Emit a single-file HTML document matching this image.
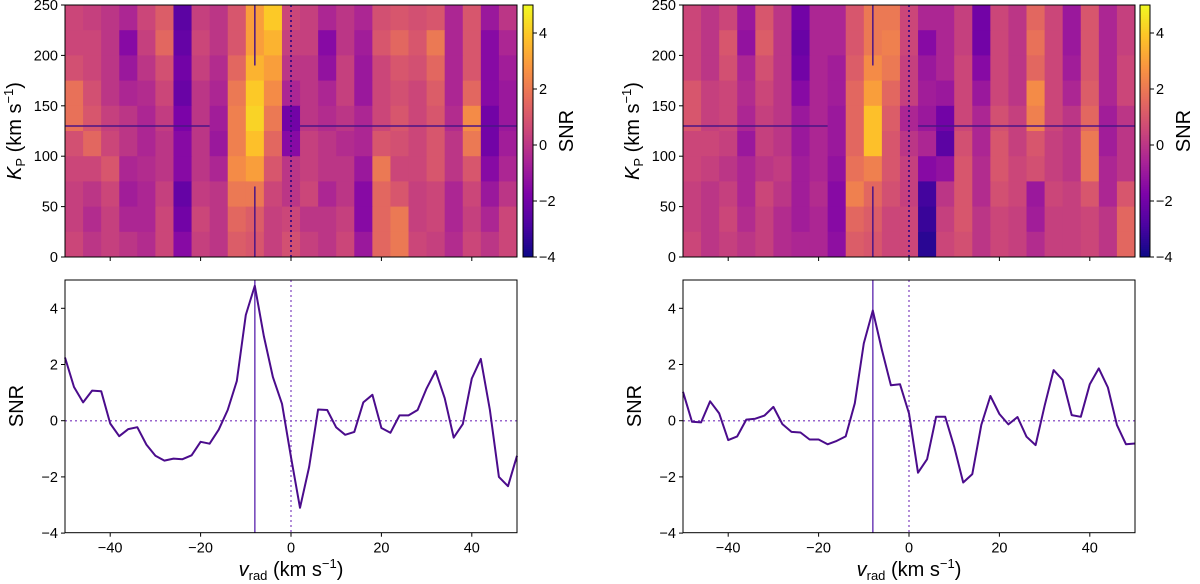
<!DOCTYPE html>
<html><head><meta charset="utf-8">
<style>
html,body{margin:0;padding:0;background:#fff;}
svg{display:block;font-family:"Liberation Sans","DejaVu Sans",sans-serif;}
</style></head>
<body>
<svg id="fig" width="1200" height="584" viewBox="0 0 1200 584" xmlns="http://www.w3.org/2000/svg"></svg>
<script>
// ---- data ----
const vGrid = [-50,-48,-46,-44,-42,-40,-38,-36,-34,-32,-30,-28,-26,-24,-22,-20,-18,-16,-14,-12,-10,-8,-6,-4,-2,0,2,4,6,8,10,12,14,16,18,20,22,24,26,28,30,32,34,36,38,40,42,44,46,48,50];
const snrLeft = [2.25,1.2,0.65,1.07,1.05,-0.1,-0.55,-0.3,-0.23,-0.85,-1.25,-1.42,-1.35,-1.37,-1.23,-0.75,-0.82,-0.32,0.38,1.41,3.76,4.8,3.0,1.55,0.6,-1.3,-3.1,-1.65,0.4,0.38,-0.24,-0.5,-0.4,0.65,0.92,-0.26,-0.43,0.19,0.19,0.38,1.15,1.77,0.8,-0.6,-0.12,1.5,2.2,0.38,-2.0,-2.33,-1.25];
const snrRight = [1.03,-0.04,-0.06,0.69,0.26,-0.69,-0.56,0.04,0.07,0.18,0.49,-0.12,-0.4,-0.42,-0.67,-0.67,-0.84,-0.72,-0.56,0.62,2.75,3.92,2.52,1.26,1.3,0.26,-1.85,-1.37,0.14,0.14,-0.93,-2.2,-1.9,-0.15,0.88,0.24,-0.13,0.13,-0.57,-0.87,0.53,1.8,1.45,0.2,0.14,1.3,1.86,1.18,-0.15,-0.84,-0.81];
const hmV = [-48,-44,-40,-36,-32,-28,-24,-20,-16,-12,-8,-4,0,4,8,12,16,20,24,28,32,36,40,44,48];
const hmK = [237.5,212.5,187.5,162.5,137.5,112.5,87.5,62.5,37.5,12.5];
const hmLeft = [
[0.5,0.3,0,-0.5,0.5,1.2,-2.5,0.3,0,1,3,4,0.5,0.3,-0.5,0,-0.5,0.8,1,0.8,1,-0.5,1,-1,0],
[0.5,0.5,0,-1.5,0.3,1.5,-2.3,0.5,0,1,3,3.5,0.3,0.3,-1.5,0,-0.8,1,1.5,1,2,-0.5,1,-1.5,-0.5],
[0.8,0.5,0,-1,0,0.8,-2,0.3,-0.3,1.5,3.5,3,0,0,-1.2,0.3,-1,0.5,1,0.8,1.5,-0.5,1,-1.5,-0.8],
[1.8,0.8,0,-0.5,-0.3,0.5,-2.2,0,-0.5,2,4,2.5,-0.5,0,-0.5,0.3,-1,0.5,0.8,0.5,1.2,-0.5,1.5,-1.5,-1],
[1.8,1,0.3,0,-0.5,0.2,-1.8,0,-0.8,2.2,4.2,2,-2,0,-0.3,0,-0.5,0.5,1,0.5,1,-0.3,2.5,-2,-1],
[0.8,1.5,0.5,0,-0.5,0,-1.5,0,-1,2.2,3.8,1.5,-1.5,0.3,0,-0.3,-0.5,1,0.8,0.5,1,0,2,-2,-0.8],
[0.5,0.5,1,-0.5,-0.3,0,-1.5,0,-0.5,2.5,3,1,0,0.3,0,0,-1,2,0.5,0.5,1,0,1,-1.5,-0.5],
[0.3,0,0.5,-0.8,-0.5,0.3,-2.3,0.2,0,2,2,0.5,0,0.5,-0.5,0,-1.5,1.5,1,0.3,0.5,-0.5,0.5,-1,0],
[0.3,-0.3,0.3,-0.5,-0.5,0.5,-2,0.5,0,1.5,1.2,0.3,0.5,0,0,0.3,-1.5,1.5,2,0.3,0.5,-0.5,0.3,-0.5,0.5],
[0.5,0,0.3,0,-0.3,0.5,-1.5,0.3,0,1.2,1,0.3,0.8,0.3,0,0.5,-1,1.5,2,0.5,0.3,-0.3,0.5,0,0.5]];
const hmRight = [
[0.5,0,0.5,-1,1,0,-2,-0.5,-0.5,1,2,2,0.5,-0.5,-0.5,0.3,-2,0.5,0,1.5,0.5,-1,1,-0.5,0.3],
[0.5,0,1,-1.2,1.2,0,-2.2,-0.5,-0.5,1,2,2.2,0.5,-1.5,-0.5,0.3,-2,0.5,0,1.8,0.5,-1,1,-0.5,0.3],
[0.5,0,0.8,-0.5,0.8,0,-2,-0.5,-0.8,1.2,2.5,2,0.3,-1,-0.5,0.5,-1.5,0.5,0,1.5,0.5,-0.8,1,-0.5,0.5],
[1,0.3,0.5,-0.3,0.5,0,-1.5,-0.5,-0.8,1.5,3,1.5,0.3,-0.8,-1,0.5,-1,0.5,0,2.5,0.5,-0.5,1.2,-0.5,0.5],
[1,0.3,0.5,-0.5,0.3,0,-1,-0.5,-1,1.5,3.8,1.2,-0.5,-1,-2,0.5,-0.5,0.8,0.3,2.2,0.5,0,1.5,-0.8,0],
[0.5,0.5,0.3,-1,0.3,0,-1,-0.5,-1,1.5,3.8,1,0,-0.5,-2.5,0.8,-0.5,1,0.3,1,0.3,0,2,-0.8,0],
[0.5,0.3,0,-0.5,0,0.2,-0.8,-0.5,-1.2,1.8,2.2,1,0.3,-1.5,-1.2,1,-0.3,1,0.5,0.8,0.3,0,2,-0.5,0],
[0.3,0,0.3,-0.5,0.5,0,-0.8,-0.3,-1.5,2.2,1.5,0.8,0.3,-3,0,1,-0.3,0.8,0.5,-1,0.5,0.3,1,-0.5,1],
[0.3,0,0.5,-0.3,0.3,-0.3,-0.8,-0.5,-1.5,1.5,1.2,0.5,0.5,-3.2,0.3,1,0,0.5,0.3,-0.8,0.3,0.3,0.5,0,1.5],
[0.5,0,0.3,0,0.3,-0.3,-0.5,-0.5,-1.3,1.2,1,0.5,0.5,-3.5,0.5,0.8,0,0.5,0.3,-0.3,0.3,0.3,0.5,0,1.5]];
const xTicks = [-40,-20,0,20,40];
const yTicksSNR = [-4,-2,0,2,4];
const yTicksKp = [0,50,100,150,200,250];
const cbTicks = [-4,-2,0,2,4];

// ---- rendering ----
const NS = "http://www.w3.org/2000/svg";
const svg = document.getElementById('fig');
function mk(tag, attrs, parent, text){
  const e = document.createElementNS(NS, tag);
  for (const k in attrs) e.setAttribute(k, attrs[k]);
  if (text !== undefined) e.textContent = text;
  (parent || svg).appendChild(e);
  return e;
}
const plasma = [[13,8,135],[75,3,161],[125,3,168],[168,34,150],[203,70,121],[229,107,93],[248,148,65],[253,195,40],[240,249,33]];
function cmap(v){
  let t = (v - (-4)) / 9; t = Math.max(0, Math.min(1, t));
  const p = t * (plasma.length - 1), i = Math.min(plasma.length - 2, Math.floor(p)), f = p - i;
  const a = plasma[i], b = plasma[i+1];
  return `rgb(${Math.round(a[0]+(b[0]-a[0])*f)},${Math.round(a[1]+(b[1]-a[1])*f)},${Math.round(a[2]+(b[2]-a[2])*f)})`;
}
const TF = 14.5, LF = 20, SF = 13;

function panel(side, L, R, cbX, hm, snr){
  const g = mk('g', {});
  
  
  const xs = v => L + (v + 50) / 100 * (R - L);
  const hT = 5, hB = 257;
  const ky = k => hB - k / 250 * (hB - hT);
  const sy = s => 420.7 - s * 28.1;
  const hg = mk('g', {}, g);
  
  
  hmK.forEach((k, r) => {
    hmV.forEach((v, c) => {
      const x0 = xs(Math.max(-50, v - 2)), x1 = xs(Math.min(50, v + 2));
      const y0 = ky(k + 12.5), y1 = ky(k - 12.5);
      const cell = mk('rect', {x: x0, y: y0, width: x1 - x0 + 0.5, height: y1 - y0 + 0.5, fill: cmap(hm[r][c])}, hg);
      
      
    });
  });
  const lc = '#4a1486';
  mk('line', {x1: xs(-50), x2: xs(-18), y1: ky(130), y2: ky(130), stroke: lc, 'stroke-width': 1.5}, hg);
  mk('line', {x1: xs(2), x2: xs(50), y1: ky(130), y2: ky(130), stroke: lc, 'stroke-width': 1.5}, hg);
  mk('line', {x1: xs(-8), x2: xs(-8), y1: ky(250), y2: ky(190), stroke: lc, 'stroke-width': 1.5}, hg);
  mk('line', {x1: xs(-8), x2: xs(-8), y1: ky(70), y2: ky(0), stroke: lc, 'stroke-width': 1.5}, hg);
  mk('line', {x1: xs(0), x2: xs(0), y1: hT, y2: hB, stroke: '#3a0a80', 'stroke-width': 1.8, 'stroke-dasharray': '2,3'}, hg);
  mk('rect', {x: L, y: hT, width: R - L, height: hB - hT, fill: 'none', stroke: '#000', 'stroke-width': 1}, g);
  xTicks.forEach(t => mk('line', {x1: xs(t), x2: xs(t), y1: hB, y2: hB + 4, stroke: '#000'}, g));
  yTicksKp.forEach(t => {
    mk('line', {x1: L - 4, x2: L, y1: ky(t), y2: ky(t), stroke: '#000'}, g);
    mk('text', {x: L - 7, y: ky(t) + 5, 'text-anchor': 'end', 'font-size': TF}, g, t);
  });
  const kl = mk('text', {x: 0, y: 0, 'text-anchor': 'middle', 'font-size': LF, transform: `translate(${L - 44},131) rotate(-90)`}, g);
  
  
  mk('tspan', {'font-style': 'italic'}, kl, 'K');
  mk('tspan', {'font-size': SF, dy: 4}, kl, 'P');
  mk('tspan', {dy: -4}, kl, ' (km s');
  mk('tspan', {'font-size': SF, dy: -8}, kl, '−1');
  mk('tspan', {dy: 8}, kl, ')');
  const cb = mk('g', {}, g);
  
  
  for (let i = 0; i < 126; i++) {
    const v = 5 - 9 * (i + 0.5) / 126;
    mk('rect', {x: cbX, y: hT + i * 2, width: 10, height: 2.2, fill: cmap(v)}, cb);
  }
  mk('rect', {x: cbX, y: hT, width: 10, height: hB - hT, fill: 'none', stroke: '#000'}, cb);
  cbTicks.forEach(t => {
    const y = hB - (t + 4) / 9 * (hB - hT);
    mk('line', {x1: cbX + 10, x2: cbX + 14, y1: y, y2: y, stroke: '#000'}, cb);
    mk('text', {x: cbX + 16, y: y + 5, 'font-size': TF}, cb, t < 0 ? '−' + (-t) : t);
  });
  mk('text', {x: 0, y: 0, 'text-anchor': 'middle', 'font-size': LF, transform: `translate(${cbX + 50},131) rotate(-90)`}, cb, 'SNR');

  const lg = mk('g', {}, g);
  
  
  const pT = 280, pB = 532.7;
  mk('line', {x1: L, x2: R, y1: sy(0), y2: sy(0), stroke: '#9966cc', 'stroke-width': 1.5, 'stroke-dasharray': '2,3'}, lg);
  mk('line', {x1: xs(0), x2: xs(0), y1: pT, y2: pB, stroke: '#9966cc', 'stroke-width': 1.5, 'stroke-dasharray': '2,3'}, lg);
  mk('line', {x1: xs(-8), x2: xs(-8), y1: pT, y2: pB, stroke: '#7040b8', 'stroke-width': 1.5}, lg);
  const pts = vGrid.map((v, i) => xs(v).toFixed(1) + ',' + sy(snr[i]).toFixed(1)).join(' ');
  const pl = mk('polyline', {points: pts, fill: 'none', stroke: '#4b0c8c', 'stroke-width': 2, 'stroke-linejoin': 'round'}, lg);
  
  
  mk('rect', {x: L, y: pT, width: R - L, height: pB - pT, fill: 'none', stroke: '#000'}, lg);
  xTicks.forEach(t => {
    mk('line', {x1: xs(t), x2: xs(t), y1: pB, y2: pB + 4, stroke: '#000'}, lg);
    mk('text', {x: xs(t), y: pB + 20, 'text-anchor': 'middle', 'font-size': TF}, lg, t < 0 ? '−' + (-t) : t);
  });
  yTicksSNR.forEach(t => {
    mk('line', {x1: L - 4, x2: L, y1: sy(t), y2: sy(t), stroke: '#000'}, lg);
    mk('text', {x: L - 7, y: sy(t) + 5, 'text-anchor': 'end', 'font-size': TF}, lg, t < 0 ? '−' + (-t) : t);
  });
  const st = mk('text', {x: 0, y: 0, 'text-anchor': 'middle', 'font-size': LF, transform: `translate(${L - 42},406) rotate(-90)`}, lg, 'SNR');
  
  
  const xl = mk('text', {x: (L + R) / 2, y: 576, 'text-anchor': 'middle', 'font-size': LF}, lg);
  
  
  mk('tspan', {'font-style': 'italic'}, xl, 'v');
  mk('tspan', {'font-size': SF, dy: 4}, xl, 'rad');
  mk('tspan', {dy: -4}, xl, ' (km s');
  mk('tspan', {'font-size': SF, dy: -8}, xl, '−1');
  mk('tspan', {dy: 8}, xl, ')');
}
panel('left', 65, 517, 523, hmLeft, snrLeft);
panel('right', 683, 1135, 1140, hmRight, snrRight);
</script>
</body></html>
